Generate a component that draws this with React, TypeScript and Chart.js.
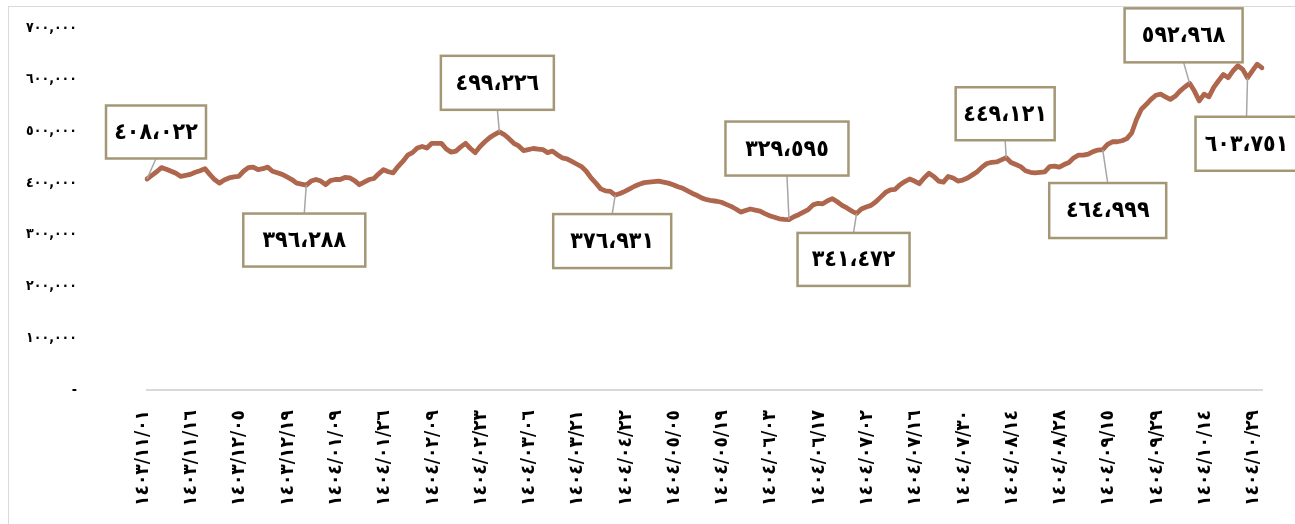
import { useEffect, useRef } from 'react';
import { Chart, registerables } from 'chart.js';

Chart.register(...registerables);

// x-axis tick labels (one every 10 trading days)
const tickLabels = [
  '١٤٠٣/١١/٠١', '١٤٠٣/١١/١٦', '١٤٠٣/١٢/٠٥', '١٤٠٣/١٢/١٩', '١٤٠٤/٠١/٠٩', '١٤٠٤/٠١/٢٦',
  '١٤٠٤/٠٢/٠٩', '١٤٠٤/٠٢/٢٣', '١٤٠٤/٠٣/٠٦', '١٤٠٤/٠٣/٢١', '١٤٠٤/٠٤/٢٢', '١٤٠٤/٠٥/٠٥',
  '١٤٠٤/٠٥/١٩', '١٤٠٤/٠٦/٠٣', '١٤٠٤/٠٦/١٧', '١٤٠٤/٠٧/٠٢', '١٤٠٤/٠٧/١٦', '١٤٠٤/٠٧/٣٠',
  '١٤٠٤/٠٨/١٤', '١٤٠٤/٠٨/٢٨', '١٤٠٤/٠٩/١٥', '١٤٠٤/٠٩/٢٩', '١٤٠٤/١٠/١٤', '١٤٠٤/١٠/٢٩',
];
const tickEvery = 10;

// daily series values
const values = [
  408022, 415000, 422000, 430000, 427000, 423000, 419000, 413000, 415000, 417000,
  421000, 424000, 428000, 417000, 407000, 400000, 406000, 410000, 412000, 413000,
  423000, 430000, 431000, 426000, 428000, 431000, 423000, 420000, 417000, 412000,
  407000, 400000, 398000, 396288, 404000, 407000, 404000, 397000, 405000, 407000,
  407000, 411000, 410000, 405000, 397000, 402000, 407000, 409000, 418000, 426000,
  422000, 420000, 432000, 442000, 454000, 459000, 468000, 471000, 468000, 477000,
  477000, 477000, 466000, 460000, 462000, 470000, 477000, 467000, 459000, 471000,
  480000, 488000, 494000, 499226, 494000, 486000, 477000, 472000, 463000, 465000,
  467000, 466000, 465000, 459000, 462000, 455000, 449000, 447000, 442000, 437000,
  432000, 423000, 410000, 400000, 389000, 385000, 384000, 376931, 380000, 384000,
  389000, 394000, 398000, 401000, 402000, 403000, 404000, 402000, 400000, 397000,
  393000, 390000, 385000, 380000, 376000, 371000, 368000, 366000, 365000, 363000,
  359000, 355000, 350000, 344000, 347000, 350000, 348000, 346000, 341000, 337000,
  334000, 331000, 330000, 329595, 335000, 339000, 344000, 349000, 358000, 361000,
  360000, 366000, 370000, 364000, 357000, 352000, 346000, 341472, 350000, 354000,
  357000, 364000, 373000, 382000, 387000, 388000, 397000, 403000, 408000, 404000,
  399000, 410000, 419000, 413000, 404000, 402000, 413000, 410000, 404000, 406000,
  410000, 416000, 422000, 431000, 438000, 440000, 441000, 445000, 449121, 440000,
  436000, 432000, 424000, 421000, 420000, 421000, 422000, 432000, 433000, 431000,
  436000, 440000, 449000, 454000, 454000, 456000, 461000, 464000, 464999, 475000,
  480000, 480000, 482000, 486000, 497000, 523000, 543000, 552000, 562000, 570000,
  572000, 567000, 562000, 568000, 578000, 586000, 592968, 578000, 559000, 572000,
  567000, 585000, 598000, 610000, 604000, 617000, 627000, 620000, 603751, 617000,
  630000, 623000,
];

// indices of the points carrying a data-label callout
const calloutIndex = [0, 33, 73, 97, 133, 147, 178, 198, 216, 228];

// y axis range
const yMin = 0;
const yMax = 700000;
const yStep = 100000;

// callout box placement relative to its point (layout only)
const calloutLayout = [
  { dx: 9, dy: -47, w: 100, h: 53 },
  { dx: -2, dy: 55, w: 122, h: 53 },
  { dx: -2, dy: -49, w: 113, h: 54 },
  { dx: -3, dy: 46, w: 118, h: 54 },
  { dx: -2, dy: -71, w: 123, h: 54 },
  { dx: -3, dy: 46, w: 112, h: 53 },
  { dx: -1, dy: -44, w: 99, h: 53 },
  { dx: 5, dy: 61, w: 117, h: 55 },
  { dx: -6, dy: -48, w: 118, h: 54 },
  { dx: -1, dy: 66, w: 102, h: 54 },
];

const AR_DIGITS = '٠١٢٣٤٥٦٧٨٩';
const toArabic = (s: string) => s.replace(/[0-9]/g, (d) => AR_DIGITS[Number(d)]);
const fmtAxis = (v: number) => toArabic(Math.round(v).toLocaleString('en-US'));
const fmtLabel = (v: number) => toArabic(Math.round(v).toLocaleString('en-US')).replace(/,/g, '،');

const FONT = '"DejaVu Sans Condensed", "DejaVu Sans", sans-serif';

const labels = values.map((_, i) => (i % tickEvery === 0 ? tickLabels[i / tickEvery] ?? '' : ''));

const calloutPlugin = {
  id: 'callouts',
  afterDatasetsDraw(chart: any) {
    const ctx = chart.ctx as CanvasRenderingContext2D;
    const meta = chart.getDatasetMeta(0);
    ctx.save();
    calloutIndex.forEach((idx, k) => {
      const p = meta.data[idx];
      if (!p) return;
      const { dx, dy, w, h } = calloutLayout[k];
      const cx = p.x + dx;
      const cy = p.y + dy;
      const edgeY = dy < 0 ? cy + h / 2 : cy - h / 2;
      ctx.strokeStyle = '#a6a6a6';
      ctx.lineWidth = 1.5;
      ctx.beginPath();
      ctx.moveTo(cx, edgeY);
      ctx.lineTo(p.x, p.y);
      ctx.stroke();
      ctx.fillStyle = '#ffffff';
      ctx.fillRect(cx - w / 2, cy - h / 2, w, h);
      ctx.strokeStyle = '#a39775';
      ctx.lineWidth = 2.5;
      ctx.strokeRect(cx - w / 2, cy - h / 2, w, h);
      ctx.fillStyle = '#000000';
      ctx.font = `bold 23px ${FONT}`;
      ctx.textAlign = 'center';
      ctx.textBaseline = 'middle';
      ctx.fillText(fmtLabel(values[idx]), cx, cy + 1);
    });
    ctx.restore();
  },
};

export default function App() {
  const ref = useRef<HTMLCanvasElement>(null);
  useEffect(() => {
    if (!ref.current) return;
    const chart = new Chart(ref.current, {
      type: 'line',
      data: {
        labels,
        datasets: [
          {
            data: values,
            borderColor: '#ae664d',
            borderWidth: 4.8,
            pointRadius: 0,
            tension: 0,
            borderJoinStyle: 'round',
            borderCapStyle: 'round',
            fill: false,
          },
        ],
      },
      options: {
        responsive: false,
        animation: false,
        layout: { padding: { top: 28, right: 33, left: 0, bottom: 0 } },
        plugins: { legend: { display: false }, tooltip: { enabled: false } },
        scales: {
          x: {
            type: 'category',
            offset: false,
            grid: { display: false, drawTicks: false },
            border: { display: true, color: '#d9d9d9', width: 2 },
            ticks: {
              autoSkip: false,
              maxRotation: 90,
              minRotation: 90,
              padding: 20,
              labelOffset: -4,
              color: '#000',
              font: { family: FONT, size: 19, weight: 'bold' },
            },
            afterFit: (s: any) => {
              s.height = 134;
              s.paddingLeft = 0;
              s.paddingRight = 0;
            },
          },
          y: {
            min: yMin,
            max: yMax,
            grid: { display: false, drawTicks: false },
            border: { display: false },
            ticks: {
              stepSize: yStep,
              padding: 70,
              color: '#000',
              font: { family: FONT, size: 14, weight: 'bold' },
              callback: (v: any) => (Number(v) === 0 ? '-' : fmtAxis(Number(v))),
            },
            afterFit: (s: any) => {
              s.width = 147;
              s.paddingTop = 10;
              s.paddingBottom = 10;
            },
          },
        },
      },
      plugins: [calloutPlugin],
    } as any);
    return () => chart.destroy();
  }, []);
  return (
    <div style={{ position: 'fixed', left: 0, top: 0, width: 1295, height: 524, background: '#fff', overflow: 'hidden' }}>
      <div
        style={{
          position: 'absolute',
          left: 8,
          top: 6,
          width: 1300,
          height: 530,
          borderTop: '1px solid #d9d9d9',
          borderLeft: '1px solid #d9d9d9',
        }}
      />
      <canvas ref={ref} width={1295} height={524} style={{ position: 'absolute', left: 0, top: 0 }} />
    </div>
  );
}
